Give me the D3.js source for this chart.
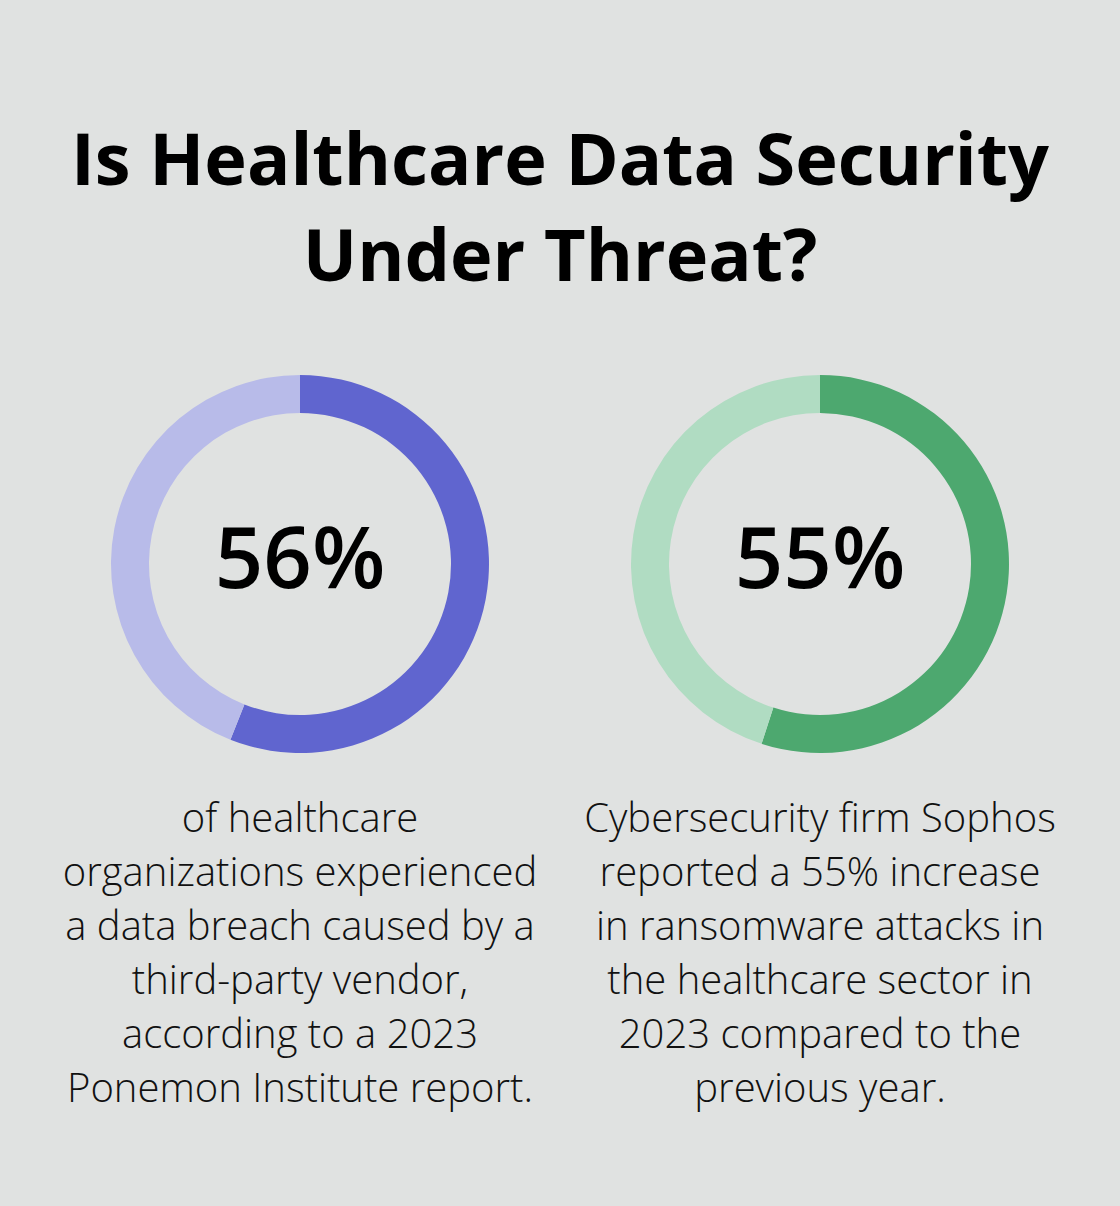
<!DOCTYPE html>
<html><head><meta charset="utf-8">
<script src="https://cdn.jsdelivr.net/npm/d3@7"></script>
<style>
html,body{margin:0;padding:0;background:#e0e2e1;}
svg{display:block;}
</style></head>
<body>
<script>
const titleLines = ["Is Healthcare Data Security", "Under Threat?"];
const values = [56, 55];
const valueLabels = ["56%", "55%"];
const darkColors = ["#6065cf", "#4da86f"];
const lightColors = ["#b8bbe9", "#b0dcc2"];
const descriptions = [
  ["of healthcare", "organizations experienced", "a data breach caused by a", "third-party vendor,", "according to a 2023", "Ponemon Institute report."],
  ["Cybersecurity firm Sophos", "reported a 55% increase", "in ransomware attacks in", "the healthcare sector in", "2023 compared to the", "previous year."]
];

const W = 1120, H = 1206;
const svg = d3.select("body").append("svg").attr("width", W).attr("height", H);
svg.append("rect").attr("width", W).attr("height", H).attr("fill", "#e0e2e1");

const title = svg.append("text").attr("text-anchor", "middle")
  .attr("font-family", "'Open Sans', sans-serif").attr("font-weight", 700)
  .attr("font-size", 72).attr("fill", "#000");
titleLines.forEach((t, i) => title.append("tspan").attr("x", W/2).attr("y", 185 + i*96).text(t));

const x = d3.scaleBand().domain(d3.range(values.length)).range([40, 1080]).padding(0);
const pie = d3.pie().sort(null).value(d => d);
const arc = d3.arc().innerRadius(151).outerRadius(189);
const cy = 564;

values.forEach((v, i) => {
  const cx = x(i) + x.bandwidth()/2;
  const g = svg.append("g").attr("transform", `translate(${cx},${cy})`);
  g.selectAll("path").data(pie([v, 100 - v])).join("path")
    .attr("d", arc)
    .attr("fill", (d, j) => j === 0 ? darkColors[i] : lightColors[i]);
  g.append("text").attr("text-anchor", "middle").attr("y", 24)
    .attr("font-family", "'Open Sans', sans-serif").attr("font-weight", 600)
    .attr("font-size", 85).attr("fill", "#000").text(valueLabels[i]);
  const t = svg.append("text").attr("text-anchor", "middle")
    .attr("font-family", "'Open Sans', sans-serif").attr("font-weight", 300)
    .attr("font-size", 40).attr("fill", "#111");
  descriptions[i].forEach((line, k) => t.append("tspan").attr("x", cx).attr("y", 832 + k*54).text(line));
});
</script>
</body></html>
